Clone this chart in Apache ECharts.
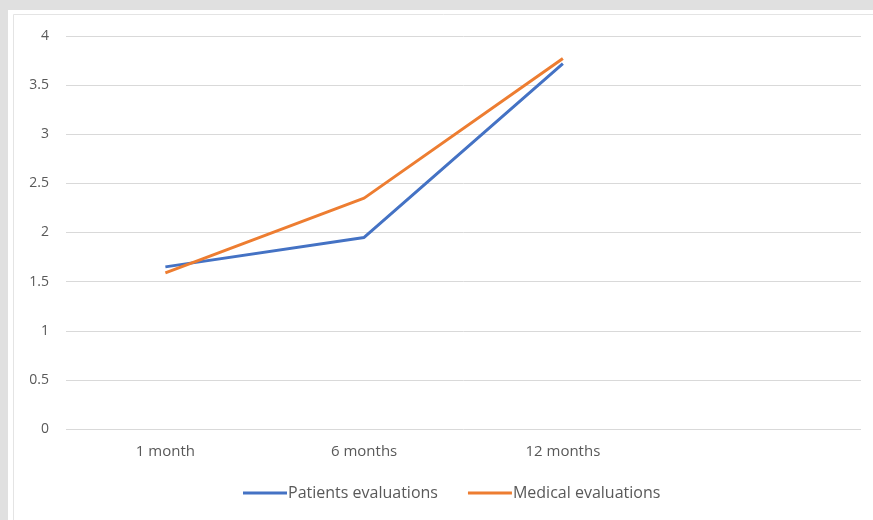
<!DOCTYPE html>
<html>
<head>
<meta charset="utf-8">
<script src="https://cdn.jsdelivr.net/npm/echarts@6/dist/echarts.min.js"></script>
<style>
html,body{margin:0;padding:0;background:#e0e0e0;}
#c{width:873px;height:520px;}
</style>
</head>
<body>
<div id="c"></div>
<script>
const categories = ['1 month', '6 months', '12 months', ''];
const patients = [1.65, 1.95, 3.72, null];
const medical = [1.59, 2.35, 3.77, null];
const yTicks = { min: 0, max: 4, interval: 0.5 };

const chart = echarts.init(document.getElementById('c'));
const font = 'Open Sans, Noto Sans, sans-serif';
chart.setOption({
  backgroundColor: '#e0e0e0',
  animation: false,
  graphic: [
    { type: 'rect', z: -10, shape: { x: 8, y: 10, width: 880, height: 520 }, style: { fill: '#ffffff' } },
    { type: 'rect', z: -9, shape: { x: 13.5, y: 14.5, width: 880, height: 520 }, style: { fill: 'none', stroke: '#e4e4e4', lineWidth: 1 } }
  ],
  grid: { left: 66, right: 12, top: 36, bottom: 91 },
  xAxis: {
    type: 'category',
    data: categories,
    boundaryGap: true,
    axisLine: { show: false },
    axisTick: { show: false },
    axisLabel: { color: '#595959', fontFamily: font, fontSize: 15, margin: 15 }
  },
  yAxis: {
    type: 'value',
    min: yTicks.min, max: yTicks.max, interval: yTicks.interval,
    axisLine: { show: false },
    axisTick: { show: false },
    splitLine: { lineStyle: { color: '#d9d9d9', width: 1 } },
    axisLabel: { color: '#595959', fontFamily: font, fontSize: 14, margin: 17 }
  },
  legend: {
    bottom: 14,
    left: 238,
    itemWidth: 44,
    itemHeight: 3,
    itemGap: 30,
    textStyle: { color: '#595959', fontFamily: font, fontSize: 16, padding: [0, 0, 0, -4] },
    data: [
      { name: 'Patients evaluations', icon: 'rect' },
      { name: 'Medical evaluations', icon: 'rect' }
    ]
  },
  series: [
    { name: 'Patients evaluations', type: 'line', data: patients, symbol: 'none', color: '#4472C4', lineStyle: { width: 3, color: '#4472C4' } },
    { name: 'Medical evaluations', type: 'line', data: medical, symbol: 'none', color: '#ED7D31', lineStyle: { width: 3, color: '#ED7D31' } }
  ]
});
</script>
</body>
</html>
